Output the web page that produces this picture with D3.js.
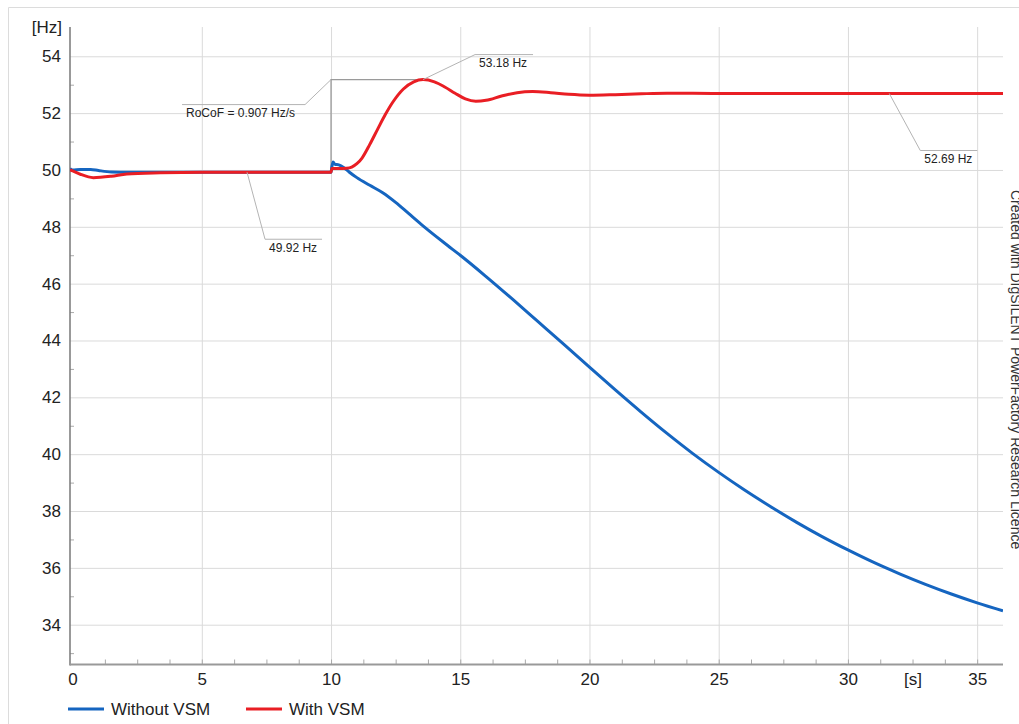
<!DOCTYPE html>
<html>
<head>
<meta charset="utf-8">
<script src="https://cdn.jsdelivr.net/npm/d3@7"></script>
<style>
  body { margin: 0; background: #fff; }
  svg { font-family: "Liberation Sans", Arial, sans-serif; }
</style>
</head>
<body>
<div id="chart"></div>
<script>
// frequency response, with and without VSM

const timeNoVsm = [-0.1, 0, 0.3, 0.7, 1.0, 1.5, 2.2, 3.0, 10.0, 10.03, 10.08, 10.15, 10.3, 10.5, 10.7, 11.0, 11.5, 12.0, 12.5, 13.0, 13.5, 14.0, 14.5, 15.0, 16.0, 17.0, 18.0, 19.0, 20.0, 21.0, 22.0, 23.0, 24.0, 25.0, 26.0, 27.0, 28.0, 29.0, 30.0, 31.0, 32.0, 33.0, 34.0, 35.0, 36.0];
const freqNoVsm = [50.05, 50.0, 50.02, 50.02, 49.98, 49.93, 49.92, 49.92, 49.92, 50.1, 50.28, 50.2, 50.18, 50.08, 49.93, 49.73, 49.46, 49.2, 48.86, 48.47, 48.08, 47.71, 47.35, 47.0, 46.25, 45.47, 44.67, 43.87, 43.06, 42.26, 41.48, 40.73, 40.02, 39.36, 38.74, 38.16, 37.61, 37.1, 36.63, 36.19, 35.79, 35.42, 35.08, 34.77, 34.49];

const timeVsm = [-0.1, 0, 0.3, 0.8, 1.5, 2.1, 3.4, 5.0, 10.0, 10.03, 10.3, 10.6, 10.8, 11.0, 11.2, 11.5, 11.8, 12.1, 12.4, 12.8, 13.2, 13.56, 14.0, 14.4, 14.8, 15.2, 15.6, 16.0, 16.6, 17.2, 17.8, 18.5, 19.2, 20.0, 21.0, 22.0, 23.0, 25.0, 36.0];
const freqVsm = [50.0, 49.97, 49.85, 49.73, 49.78, 49.86, 49.9, 49.92, 49.92, 50.05, 50.05, 50.06, 50.1, 50.22, 50.42, 50.9, 51.43, 51.95, 52.4, 52.85, 53.1, 53.18, 53.1, 52.92, 52.7, 52.5, 52.42, 52.45, 52.6, 52.72, 52.76, 52.72, 52.66, 52.63, 52.65, 52.68, 52.7, 52.69, 52.69];

const seriesNames = ["Without VSM", "With VSM"];
const xTicks = [0, 5, 10, 15, 20, 25, 30, 35];
const yTicks = [34, 36, 38, 40, 42, 44, 46, 48, 50, 52, 54];

// annotation labels: point on curve (t, f), text
const noteText = ["RoCoF = 0.907 Hz/s", "53.18 Hz", "49.92 Hz", "52.69 Hz"];
const noteT = [10.0, 13.56, 6.75, 31.6];
const noteF = [53.18, 53.18, 49.92, 52.69];

const WIDTH = 1019;
const HEIGHT = 724;
const MARGINS = {left: 70, right: 16, top: 27, bottom: 59.5};
const COLORS = ["#1565c0", "#e91e24"];

const svg = d3.select("#chart")
  .append("svg")
    .attr("width", WIDTH)
    .attr("height", HEIGHT);

// outer frame (top and left only, rest is off the page)
svg.append("path")
  .attr("d", "M8.5,724 L8.5,7.5 L1019,7.5")
  .attr("fill", "none")
  .attr("stroke", "#dcdcdc");

const X_SCALE = d3.scaleLinear()
  .domain([-0.1, 36])
  .range([MARGINS.left, WIDTH - MARGINS.right]);

const Y_SCALE = d3.scaleLinear()
  .domain([32.6, 55.03])
  .range([HEIGHT - MARGINS.bottom, MARGINS.top]);

const plotW = WIDTH - MARGINS.right - MARGINS.left;
const plotH = HEIGHT - MARGINS.bottom - MARGINS.top;

// grid
svg.append("g")
  .attr("transform", "translate(" + MARGINS.left + ",0)")
  .call(d3.axisLeft(Y_SCALE).tickValues(yTicks).tickSize(-plotW).tickFormat(""))
  .call(g => g.select(".domain").remove())
  .call(g => g.selectAll("line").attr("stroke", "#dadada"));

svg.append("g")
  .attr("transform", "translate(0," + (HEIGHT - MARGINS.bottom) + ")")
  .call(d3.axisBottom(X_SCALE).tickValues(xTicks.slice(1)).tickSize(-plotH).tickFormat(""))
  .call(g => g.select(".domain").remove())
  .call(g => g.selectAll("line").attr("stroke", "#dadada"));

// minor ticks
svg.append("g")
  .attr("transform", "translate(0," + (HEIGHT - MARGINS.bottom) + ")")
  .call(d3.axisBottom(X_SCALE).tickValues(d3.range(1.25, 36, 1.25)).tickSize(-5).tickFormat(""))
  .call(g => g.select(".domain").remove())
  .call(g => g.selectAll("line").attr("stroke", "#aaa"));

svg.append("g")
  .attr("transform", "translate(" + MARGINS.left + ",0)")
  .call(d3.axisLeft(Y_SCALE).tickValues(d3.range(33, 55, 2)).tickSize(-4).tickFormat(""))
  .call(g => g.select(".domain").remove())
  .call(g => g.selectAll("line").attr("stroke", "#aaa"));

// axis lines
svg.append("line")
  .attr("x1", MARGINS.left).attr("x2", MARGINS.left)
  .attr("y1", MARGINS.top).attr("y2", HEIGHT - MARGINS.bottom + 1)
  .attr("stroke", "#777").attr("stroke-width", 1.5);

svg.append("line")
  .attr("x1", MARGINS.left).attr("x2", WIDTH - MARGINS.right)
  .attr("y1", HEIGHT - MARGINS.bottom).attr("y2", HEIGHT - MARGINS.bottom)
  .attr("stroke", "#999").attr("stroke-width", 2);

// tick labels
svg.append("g")
  .attr("transform", "translate(" + MARGINS.left + ",0)")
  .call(d3.axisLeft(Y_SCALE).tickValues(yTicks).tickSize(0).tickPadding(9))
  .call(g => g.select(".domain").remove())
  .selectAll("text")
    .attr("font-size", "17px")
    .attr("font-family", "Liberation Sans, Arial, sans-serif")
    .attr("fill", "#222");

svg.append("g")
  .attr("transform", "translate(0," + (HEIGHT - MARGINS.bottom) + ")")
  .call(d3.axisBottom(X_SCALE).tickValues(xTicks).tickSize(0).tickPadding(8.5))
  .call(g => g.select(".domain").remove())
  .selectAll("text")
    .attr("font-size", "17px")
    .attr("font-family", "Liberation Sans, Arial, sans-serif")
    .attr("fill", "#222");

svg.append("text")
  .attr("x", 62).attr("y", 33)
  .attr("text-anchor", "end")
  .attr("font-size", "17px")
  .attr("fill", "#222")
  .text("[Hz]");

svg.append("text")
  .attr("x", 913).attr("y", 685)
  .attr("text-anchor", "middle")
  .attr("font-size", "17px")
  .attr("fill", "#222")
  .text("[s]");

// RoCoF measuring lines
const rocofT0 = noteT[0], rocofT1 = noteT[1];
svg.append("path")
  .attr("d", "M" + X_SCALE(rocofT0) + "," + Y_SCALE(49.92) +
             " L" + X_SCALE(rocofT0) + "," + Y_SCALE(noteF[0]) +
             " L" + X_SCALE(rocofT1) + "," + Y_SCALE(noteF[1]))
  .attr("fill", "none")
  .attr("stroke", "#9a9a9a")
  .attr("stroke-width", 1.3);

// curves
svg.append("clipPath").attr("id", "plotclip")
  .append("rect")
    .attr("x", MARGINS.left).attr("y", MARGINS.top)
    .attr("width", plotW).attr("height", plotH);

const line = d3.line()
  .x(d => X_SCALE(d[0]))
  .y(d => Y_SCALE(d[1]))
  .curve(d3.curveMonotoneX);

const series = [
  d3.zip(timeNoVsm, freqNoVsm),
  d3.zip(timeVsm, freqVsm)
];

svg.append("g")
  .attr("clip-path", "url(#plotclip)")
  .selectAll("path")
  .data(series)
  .enter()
  .append("path")
    .attr("d", line)
    .attr("fill", "none")
    .attr("stroke", (d, i) => COLORS[i])
    .attr("stroke-width", 3)
    .attr("stroke-linejoin", "round");

// annotation labels (offsets from the curve point, in px)
const noteDx = [-26, 52, 18, 31];
const noteDy = [25, -25, 67, 57];
const noteLen = [-123, 58, 57, 57];

noteText.forEach((txt, i) => {
  const px = X_SCALE(noteT[i]);
  const py = Y_SCALE(noteF[i]);
  const ax = px + noteDx[i];
  const ay = py + noteDy[i];
  const bx = ax + noteLen[i];
  svg.append("path")
    .attr("d", "M" + px + "," + py + " L" + ax + "," + ay + " L" + bx + "," + ay)
    .attr("fill", "none")
    .attr("stroke", "#b4b4b4")
    .attr("stroke-width", 1);
  svg.append("text")
    .attr("x", Math.min(ax, bx) + 4)
    .attr("y", ay + 12.5)
    .attr("font-size", "12px")
    .attr("fill", "#222")
    .text(txt);
});

// legend
const legend = svg.append("g")
  .selectAll("g")
  .data(seriesNames)
  .enter()
  .append("g");

const legendX = [68, 246];
legend.append("line")
  .attr("x1", (d, i) => legendX[i])
  .attr("x2", (d, i) => legendX[i] + 36)
  .attr("y1", 709).attr("y2", 709)
  .attr("stroke", (d, i) => COLORS[i])
  .attr("stroke-width", 3);

legend.append("text")
  .attr("x", (d, i) => legendX[i] + 43)
  .attr("y", 715)
  .attr("font-size", "17px")
  .attr("fill", "#222")
  .text(d => d);

// watermark on the right edge, cut off by the page
svg.append("text")
  .attr("transform", "translate(1011,190) rotate(90)")
  .attr("font-size", "14px")
  .attr("fill", "#333")
  .text("Created with DIgSILENT PowerFactory Research Licence");
</script>
</body>
</html>
